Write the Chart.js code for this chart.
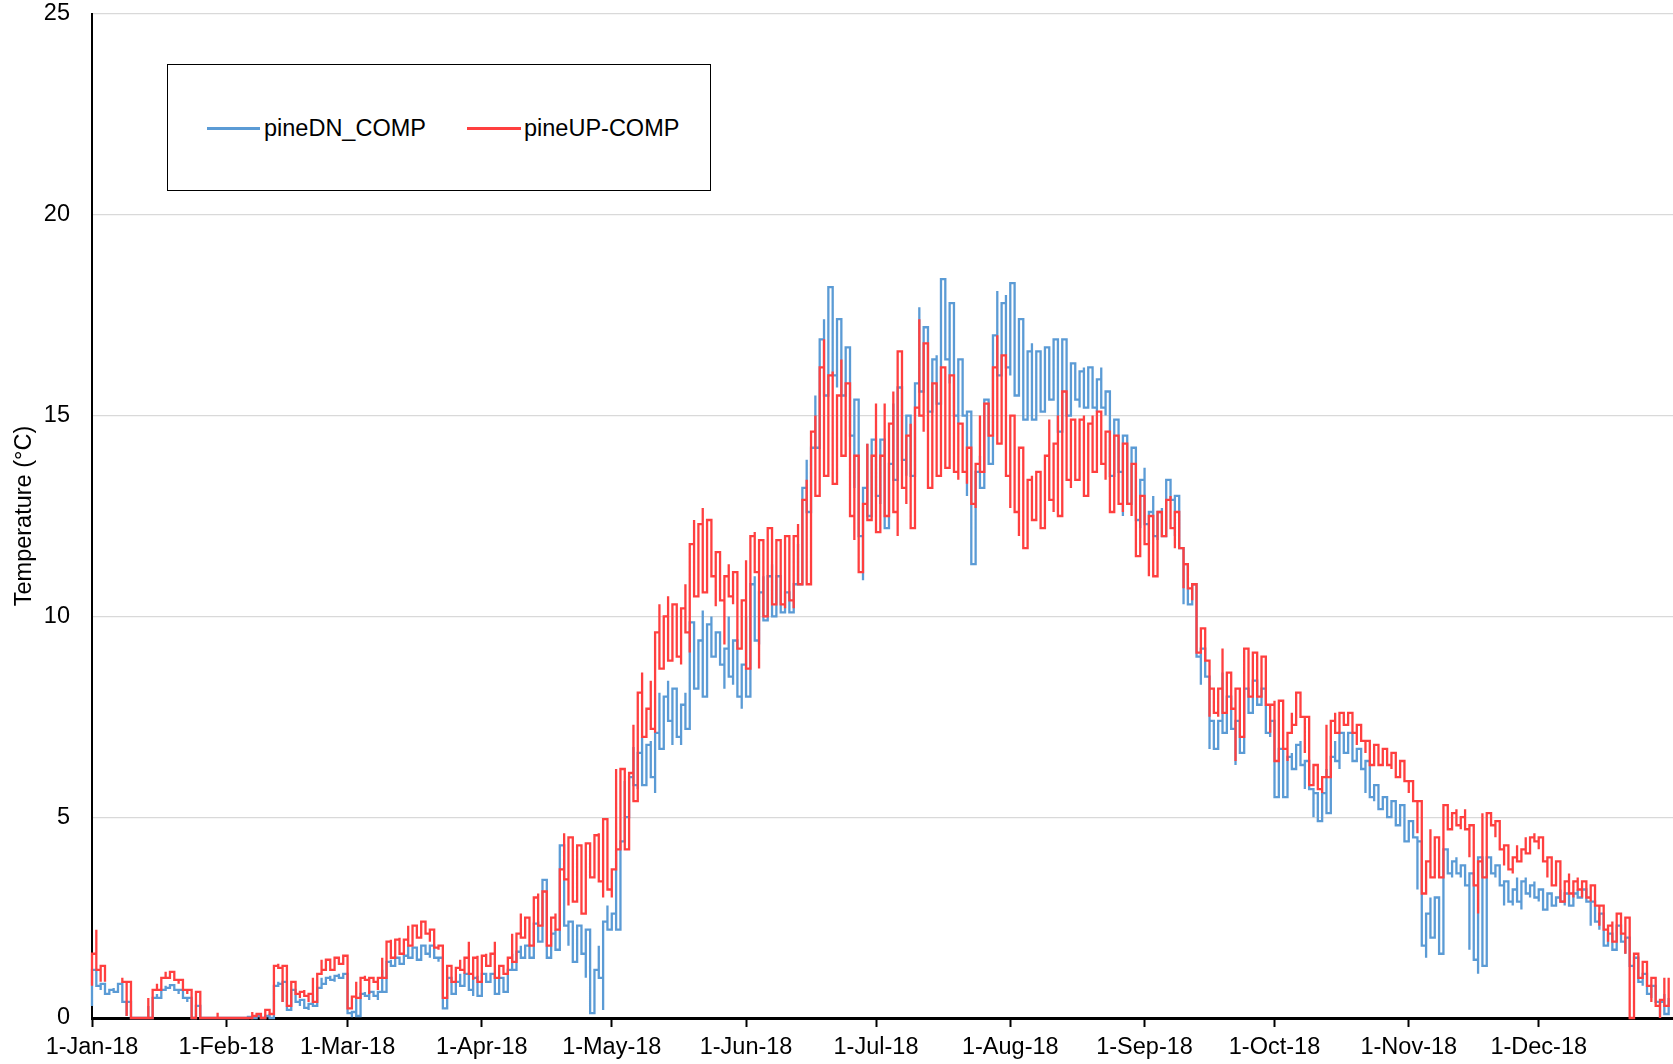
<!DOCTYPE html>
<html>
<head>
<meta charset="utf-8">
<script src="https://cdn.jsdelivr.net/npm/chart.js@4.4.1/dist/chart.umd.min.js"></script>
<style>
  html, body { margin: 0; padding: 0; background: #fff; overflow: hidden; }
  #wrap { position: relative; width: 1673px; height: 1064px; }
  #c { position: absolute; left: 0; top: 0; }
  #legend { position: absolute; left: 167px; top: 64px; width: 544px; height: 127px;
            box-sizing: border-box; border: 1.4px solid #000; background: #fff; }
  .lg-line { position: absolute; height: 2.5px; top: 62px; }
  .lg-text { position: absolute; top: 44px; line-height: 38px; height: 38px; color: #000; white-space: nowrap; }
</style>
</head>
<body>
<div id="wrap">
  <canvas id="c" width="1673" height="1064"></canvas>
  <div id="legend">
    <div class="lg-line" style="left:39px;width:53px;background:#5B9BD5"></div>
    <div class="lg-text" id="lt1" style="left:96px">pineDN_COMP</div>
    <div class="lg-line" style="left:299px;width:54px;background:#FF3F3F"></div>
    <div class="lg-text" id="lt2" style="left:356px">pineUP-COMP</div>
  </div>
</div>
<script>
// ---- tick labels (x axis: first day of each month, day index from 1-Jan-18) ----
const monthStartDays = [0, 31, 59, 90, 120, 151, 181, 212, 243, 273, 304, 334];
const monthLabels = ['1-Jan-18','1-Feb-18','1-Mar-18','1-Apr-18','1-May-18','1-Jun-18',
                     '1-Jul-18','1-Aug-18','1-Sep-18','1-Oct-18','1-Nov-18','1-Dec-18'];
const yTicks = [0, 5, 10, 15, 20, 25];

// ---- pineDN_COMP daily minimum / maximum (°C), day 0 = 1-Jan-18 ----
const dnMin = [
0.3,0.8,0.7,0.6,0.6,0.65,0.75,0.4,0.05,0,
0,0,0,0,0.3,0.5,0.6,0.75,0.78,0.7,
0.6,0.5,0.4,0,0,0,0,0,0,0,
0,0,0,0,0,0,0,0,0,0,
0,0,0.1,0.85,0.4,0.2,0.4,0.4,0.3,0.25,
0.2,0.3,0.6,0.85,0.9,0.95,0.9,1.0,1.0,0.12,
0.02,0.05,0.5,0.55,0.45,0.55,0.45,0.65,1.2,1.3,
1.3,1.35,1.4,1.5,1.5,1.45,1.6,1.6,1.5,1.5,
1.4,0.24,0.55,0.6,0.6,0.8,0.8,0.7,0.55,0.55,
0.6,0.9,0.9,0.6,0.8,0.65,0.9,1.2,1.5,1.5,
1.6,1.5,1.7,1.9,2.0,1.5,1.6,1.7,2.2,2.3,
1.8,1.4,1.6,1.6,1.0,0.12,1.1,1.0,0.2,2.2,
2.2,2.2,4.2,5.0,5.7,5.8,5.7,5.8,5.9,6.0,
5.6,6.7,7.0,7.4,6.8,7.0,6.8,7.2,7.5,8.2,
8.5,8.0,8.8,9.0,9.0,8.8,8.2,8.5,8.3,8.0,
7.7,8.0,9.3,9.4,9.3,9.9,10.1,10.0,10.2,10.1,
10.1,10.1,10.1,10.8,12.0,12.6,12.8,14.2,15.2,15.5,
16.1,16.0,15.7,15.5,15.7,14.5,13.2,12.0,10.9,12.5,
12.9,13.0,12.8,12.2,12.8,13.4,13.6,13.9,13.5,13.5,
14.0,15.6,15.6,15.1,15.5,15.3,16.2,16.4,15.8,15.0,
14.8,15.0,13.0,11.3,12.0,13.2,13.5,13.8,15.5,16.0,
16.5,16.2,16.0,15.5,15.9,14.9,15.2,14.9,15.0,15.1,
15.3,15.4,15.5,14.6,14.8,15.0,15.3,15.4,15.2,15.2,
15.3,15.2,15.1,15.2,15.0,13.5,13.8,13.6,12.5,12.8,
13.0,12.4,12.2,12.3,11.8,12.0,11.9,12.0,12.8,12.9,
12.0,11.7,10.3,10.3,10.3,9.0,8.3,8.5,6.7,6.7,
7.0,7.1,7.2,7.2,6.3,6.6,7.6,7.6,7.8,7.8,
8.0,7.1,7.0,5.5,6.2,5.5,6.0,6.2,6.4,6.3,
5.7,5.7,5.0,4.9,5.0,5.1,5.8,6.4,6.2,6.6,
6.6,6.4,6.4,6.2,5.6,5.5,5.4,5.2,5.2,5.0,
5.0,4.8,4.8,4.4,4.5,4.5,3.2,1.8,1.5,2.0,
2.2,1.6,2.0,3.6,3.5,3.6,3.5,3.3,1.7,1.45,
1.1,1.3,3.8,3.6,3.5,3.3,2.8,2.9,2.8,2.9,
2.7,3.1,3.0,3.0,2.9,2.7,2.8,2.8,2.8,2.9,
2.8,2.8,2.9,3.0,3.0,2.9,2.3,2.4,2.2,1.8,
1.8,1.7,2.0,1.9,1.6,1.3,1.2,0.9,0.8,0.6,
0.5,0.4,0,0.1,0.1
];
const dnMax = [
1.2,1.1,0.85,0.7,0.7,0.75,0.85,0.85,0.4,0,
0,0,0,0.3,0.5,0.6,0.7,0.8,0.82,0.78,
0.7,0.6,0.5,0.45,0.3,0,0,0,0,0,
0,0,0,0,0,0,0.03,0.05,0.05,0,
0.05,0.1,0.8,0.9,0.9,0.45,0.7,0.5,0.45,0.4,
0.35,0.6,0.75,1.0,1.0,1.05,1.05,1.1,1.1,1.1,
0.15,0.5,0.6,0.65,0.65,0.65,0.65,1.2,1.4,1.45,
1.5,1.5,1.55,1.8,1.75,1.7,1.8,1.8,1.8,1.65,
1.5,1.4,1.0,0.95,0.9,1.1,1.1,1.1,1.0,1.05,
1.1,1.1,1.1,1.1,1.0,0.95,1.2,1.6,1.65,1.8,
1.8,1.7,2.35,2.4,3.44,2.0,2.1,2.2,4.3,2.8,
2.4,2.3,2.3,2.2,2.2,1.2,1.2,1.8,2.4,2.8,
2.6,4.2,4.4,5.9,6.0,6.75,6.6,7.0,6.8,6.9,
7.1,8.1,8.0,8.4,8.2,7.8,7.8,8.1,9.85,9.3,
9.4,10.15,9.8,10.0,9.6,9.5,9.2,10.0,9.4,9.3,
8.8,10.0,10.8,11.0,10.6,11.0,11.0,11.3,11.0,10.7,
10.6,10.6,10.8,11.8,13.2,13.9,14.2,15.5,16.9,17.4,
18.2,17.4,17.4,16.8,16.7,15.9,15.4,13.2,13.2,14.3,
14.4,14.0,14.4,14.0,13.8,15.3,15.7,15.5,15.0,14.8,
15.8,17.7,17.2,16.8,16.4,16.5,18.4,18.3,17.8,17.2,
16.4,15.8,15.1,14.3,13.6,14.0,15.4,15.0,17.0,18.1,
17.8,18.0,18.3,17.5,17.4,17.0,16.6,16.8,16.6,16.5,
16.7,16.5,16.9,16.7,16.9,16.5,16.3,16.3,16.1,16.2,
16.2,16.0,15.9,16.2,15.6,15.1,14.9,14.8,14.5,14.0,
14.2,13.4,13.4,13.7,12.6,13.0,12.6,12.7,13.4,13.3,
13.0,12.0,11.3,11.2,10.8,9.6,9.2,9.0,7.4,7.2,
7.4,8.6,8.0,7.8,7.4,7.1,8.2,8.0,8.4,8.1,
8.2,7.9,7.4,6.7,6.7,6.2,6.5,6.6,6.8,6.9,
6.4,5.8,5.6,5.4,5.6,6.2,6.5,6.9,7.1,7.0,
7.1,6.9,6.7,6.7,6.4,5.8,5.8,5.6,5.5,5.4,
5.4,5.4,5.3,5.2,4.9,4.7,4.4,3.2,2.6,3.0,
3.0,2.4,4.2,4.2,3.9,4.0,3.8,3.7,3.6,3.0,
4.0,4.0,4.0,3.8,3.8,3.6,3.4,3.4,3.2,3.5,
3.4,3.5,3.3,3.4,3.2,3.2,3.1,3.1,3.0,3.2,
3.1,3.0,3.1,3.2,3.2,3.1,2.9,2.8,2.6,2.3,
2.1,2.0,2.3,2.2,2.0,1.6,1.5,1.3,1.1,0.9,
0.8,0.6,0.4,0.6,0.5
];

// ---- pineUP-COMP daily minimum / maximum (°C); null = no data ----
const upMin = [
0.8,1.2,0.9,0.9,null,null,null,0.9,0.05,0,
0,0,0,0,0.5,0.7,0.85,1.0,1.05,0.95,
0.85,0.7,0.6,0,0.1,0,0,0,0,0,
0,0,0,0,0,0,0,0.05,0.05,0,
0.1,0.1,0.2,1.25,0.4,0.3,0.6,0.6,0.5,0.55,
0.4,0.4,0.9,1.2,1.3,1.2,1.3,1.35,1.35,0.24,
0.24,0.5,0.9,0.95,0.6,0.9,0.7,1.0,1.4,1.5,
1.6,1.6,1.7,1.8,2.0,2.0,2.0,2.1,1.9,1.75,
1.7,0.5,0.8,0.9,0.95,1.2,1.1,1.1,0.95,0.9,
1.0,1.3,1.4,1.0,1.1,1.1,1.2,1.4,1.8,2.0,
2.0,1.8,1.9,2.3,2.3,1.8,2.0,2.2,2.6,3.45,
2.8,2.9,3.0,2.6,3.3,3.5,4.0,3.4,3.0,3.2,
3.0,4.2,5.7,4.2,5.3,5.4,6.8,7.0,7.0,7.2,
7.1,8.7,8.7,8.9,9.1,9.0,8.8,9.6,9.1,10.5,
10.8,10.6,11.2,11.0,10.25,10.4,9.3,10.5,10.3,9.2,
9.5,8.7,10.3,11.1,8.7,10.0,10.3,10.3,10.5,10.3,
10.2,10.4,10.2,10.8,11.2,10.8,12.5,13.0,14.1,13.5,
14.1,13.3,13.6,14.0,14.0,12.5,11.9,11.1,11.1,12.4,
12.6,12.1,12.2,12.5,13.0,12.6,12.0,13.2,12.8,12.2,
13.4,15.0,14.6,13.2,13.8,13.5,14.0,13.7,14.2,13.6,
13.4,13.6,13.3,12.8,12.7,13.6,14.0,14.5,15.0,14.3,
15.2,13.5,12.7,12.6,12.0,11.7,11.9,12.4,12.5,12.2,
12.5,12.9,12.6,12.5,13.0,13.4,13.2,13.4,13.5,13.0,
13.4,13.6,13.7,13.8,13.4,12.6,13.0,12.8,12.6,12.8,
12.5,11.5,11.6,11.8,11.0,11.0,11.9,12.0,12.0,12.2,
11.7,11.7,10.7,10.7,10.4,9.1,9.2,8.9,7.5,7.6,
7.5,7.6,7.8,7.7,6.4,7.0,7.9,8.0,8.2,8.0,
8.2,7.8,7.1,6.4,7.2,6.7,6.4,7.3,7.5,7.5,
6.6,5.8,5.8,5.7,5.6,6.0,7.0,7.1,7.2,7.3,
7.3,7.1,6.8,6.9,6.6,6.3,6.4,6.3,6.3,6.3,
6.2,6.0,6.2,5.9,5.6,5.4,4.6,3.1,3.1,3.5,
3.9,3.5,4.5,4.7,4.7,4.8,4.7,4.7,4.0,3.3,
2.6,3.5,4.7,4.8,4.5,4.2,3.8,3.7,3.6,3.9,
3.9,4.1,4.2,4.4,4.2,3.9,3.5,3.3,3.4,2.9,
3.0,3.1,3.0,3.2,3.0,3.0,2.9,2.8,2.3,2.2,
1.9,1.9,2.3,2.1,1.6,0,0,1.0,1.0,0.8,
0.4,0.3,0,0.3,0.5
];
const upMax = [
1.6,2.2,1.3,0.9,null,null,null,1.0,0.9,0,
0,0,0,0.5,0.7,0.85,1.0,1.15,1.15,1.05,
0.95,0.8,0.7,0.65,0.65,0.1,0,0,0,0.13,
0,0,0,0,0,0,0,0.15,0.1,0.05,
0.2,0.2,1.3,1.35,1.3,0.6,0.9,0.75,0.65,0.7,
0.6,1.0,1.1,1.45,1.45,1.4,1.5,1.5,1.55,1.4,
0.53,0.9,1.0,1.05,1.0,1.0,1.0,1.5,1.9,1.95,
1.95,2.0,1.95,2.3,2.3,2.15,2.4,2.4,2.2,2.0,
1.8,1.7,1.3,1.25,1.25,1.45,1.5,1.9,1.5,1.55,
1.55,1.6,1.6,1.9,1.3,1.3,1.5,2.1,2.1,2.6,
2.5,2.1,3.0,3.1,3.15,2.4,2.5,2.6,3.7,4.6,
4.5,4.1,4.3,4.3,4.35,4.2,4.55,4.6,4.95,4.2,
3.7,6.2,6.2,5.7,6.1,7.3,8.1,8.6,7.7,8.4,
9.6,10.3,10.0,10.5,10.3,10.0,10.2,10.8,11.8,12.4,
12.3,12.7,12.4,12.3,11.6,11.4,11.0,11.3,11.1,10.6,
10.4,11.4,12.0,12.1,11.9,11.9,12.2,12.1,11.9,11.8,
12.0,11.8,12.0,12.3,12.9,13.4,14.6,15.0,16.2,16.9,
16.0,16.1,15.5,16.4,15.8,14.3,14.0,12.0,12.8,14.3,
14.0,15.3,14.0,15.3,14.8,15.6,16.6,15.8,14.5,14.8,
15.2,17.4,16.8,16.4,15.8,15.6,16.2,15.6,16.0,15.0,
14.8,14.7,14.2,14.0,13.8,15.0,15.3,15.2,16.2,17.0,
16.5,15.5,15.0,14.5,14.2,13.8,13.4,13.5,13.6,13.5,
14.0,14.9,14.3,15.0,15.6,15.3,14.9,14.8,14.9,15.0,
14.8,15.0,15.1,15.0,14.6,14.5,14.5,14.2,14.3,14.0,
13.8,13.2,13.0,12.6,12.5,12.2,12.6,12.4,12.9,13.0,
12.6,11.9,11.3,11.2,10.8,9.6,9.7,9.5,8.2,8.1,
8.2,9.2,8.6,8.4,8.2,7.9,9.2,9.0,9.1,9.1,
9.0,8.3,7.8,7.9,7.9,7.3,7.1,7.6,8.1,8.1,
7.5,6.6,6.3,6.1,6.0,7.3,7.4,7.6,7.6,7.6,
7.6,7.4,7.3,7.3,6.9,6.7,6.8,6.6,6.7,6.7,
6.6,6.5,6.4,6.4,5.9,5.8,5.4,4.6,3.9,4.7,
4.5,3.9,5.3,5.3,5.1,5.2,5.0,5.2,4.8,4.3,
3.9,5.1,5.1,5.0,4.9,4.6,4.3,4.1,4.0,4.3,
4.2,4.5,4.5,4.6,4.5,4.3,4.0,3.7,3.9,3.6,
3.4,3.6,3.4,3.5,3.4,3.4,3.3,3.2,2.8,2.5,
2.3,2.4,2.6,2.4,2.5,1.6,1.6,1.6,1.4,1.0,
1.0,0.7,0.45,1.0,1.0
];

// ---- font choice: a narrow sans if installed ----
function fontAvailable(name) {
  const ctx = document.createElement('canvas').getContext('2d');
  const s = 'pineDN_COMP 1-Jan-18 Temperature 0123456789';
  ctx.font = '40px monospace'; const a = ctx.measureText(s).width;
  ctx.font = '40px serif'; const b = ctx.measureText(s).width;
  ctx.font = '40px "' + name + '", monospace'; const c = ctx.measureText(s).width;
  ctx.font = '40px "' + name + '", serif'; const d = ctx.measureText(s).width;
  return a !== c || b !== d;
}
const narrow = fontAvailable('Liberation Sans Narrow');
const FAMILY = narrow ? "'Liberation Sans Narrow', 'Liberation Sans', Arial, sans-serif"
                      : "'Liberation Sans', Arial, sans-serif";
const FSIZE = narrow ? 28 : 23.5;
document.querySelectorAll('.lg-text').forEach(el => {
  el.style.fontFamily = FAMILY; el.style.fontSize = FSIZE + 'px';
});

// each day's readings share one x position (min..max vertical), stepped between days
function buildSeries(lo, hi) {
  const pts = [];
  for (let d = 0; d < lo.length; d++) {
    if (lo[d] === null) { pts.push({ x: d, y: null }); continue; }
    if (d % 2 === 0) { pts.push({ x: d, y: lo[d] }, { x: d, y: hi[d] }); }
    else { pts.push({ x: d, y: hi[d] }, { x: d, y: lo[d] }); }
  }
  return pts;
}

new Chart(document.getElementById('c'), {
  type: 'line',
  data: {
    datasets: [
      { label: 'pineDN_COMP', data: buildSeries(dnMin, dnMax), borderColor: '#5B9BD5',
        borderWidth: 2.3, pointRadius: 0, stepped: 'before', fill: false, order: 2, clip: 6 },
      { label: 'pineUP-COMP', data: buildSeries(upMin, upMax), borderColor: '#FF3F3F',
        borderWidth: 2.3, pointRadius: 0, stepped: 'before', fill: false, order: 1, clip: 6 }
    ]
  },
  options: {
    responsive: false, animation: false, devicePixelRatio: 1,
    parsing: true, spanGaps: false,
    layout: { padding: 0 },
    plugins: { legend: { display: false }, tooltip: { enabled: false } },
    scales: {
      x: {
        type: 'linear', min: 0, max: 365,
        afterBuildTicks: (s) => { s.ticks = monthStartDays.map(v => ({ value: v })); },
        afterFit: (s) => { s.height = 46; s.paddingLeft = 0; s.paddingRight = 0; },
        ticks: {
          autoSkip: false, maxRotation: 0, minRotation: 0, padding: 6, color: '#000',
          font: { family: FAMILY, size: FSIZE },
          callback: (v) => { const i = monthStartDays.indexOf(v); return i >= 0 ? monthLabels[i] : ''; }
        },
        grid: { display: true, drawOnChartArea: false, drawTicks: true, tickLength: 9,
                tickColor: '#000', tickWidth: 2 },
        border: { display: true, color: '#000', width: 3 }
      },
      y: {
        min: 0, max: 25,
        afterBuildTicks: (s) => { s.ticks = yTicks.map(v => ({ value: v })); },
        afterFit: (s) => { s.width = 92; s.paddingTop = 14; s.paddingBottom = 0; },
        ticks: { padding: 22, color: '#000', font: { family: FAMILY, size: FSIZE } },
        grid: { color: '#D9D9D9', lineWidth: 1.3, drawTicks: false },
        border: { display: true, color: '#000', width: 2 },
        title: { display: true, text: 'Temperature (°C)', color: '#000',
                 font: { family: FAMILY, size: FSIZE }, padding: { top: 10, bottom: 0 } }
      }
    }
  }
});
</script>
</body>
</html>
